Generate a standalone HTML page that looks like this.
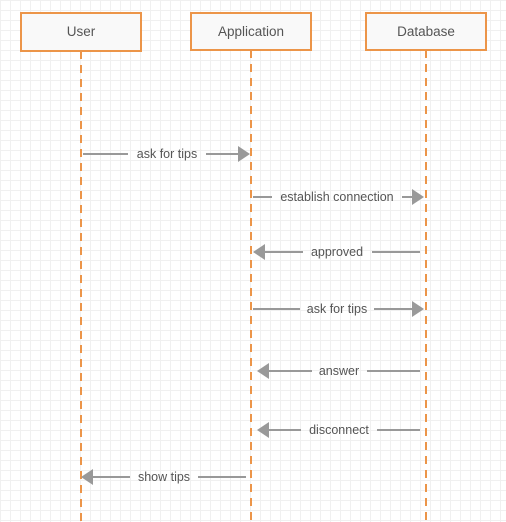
<!DOCTYPE html>
<html><head><meta charset="utf-8"><style>
html,body{margin:0;padding:0}
body{width:506px;height:522px;overflow:hidden;background:#fff;
background-image:linear-gradient(#f0f0f0 1px,transparent 1px),linear-gradient(90deg,#f0f0f0 1px,transparent 1px);
background-size:10px 10px;background-position:0 0;}
svg{position:absolute;left:0;top:0}
text{font-family:"Liberation Sans",sans-serif;font-size:12.5px;fill:#555}
</style></head><body>
<svg width="506" height="522" viewBox="0 0 506 522">
<g stroke="#ec9549" stroke-width="2" stroke-dasharray="8,6" fill="none">
<line x1="81" y1="51" x2="81" y2="522"/>
<line x1="251" y1="50" x2="251" y2="522"/>
<line x1="426" y1="50" x2="426" y2="522"/>
</g>
<g fill="#f9f9f9" stroke="#ec9549" stroke-width="2">
<rect x="21" y="13" width="120" height="38"/>
<rect x="191" y="13" width="120" height="37"/>
<rect x="366" y="13" width="120" height="37"/>
</g>
<g text-anchor="middle">
<text x="81" y="36" style="font-size:13.5px">User</text>
<text x="251" y="36" style="font-size:13.5px">Application</text>
<text x="426" y="36" style="font-size:13.5px">Database</text>
</g>
<g stroke="#999" stroke-width="2">
<line x1="83" y1="154" x2="128" y2="154"/><line x1="206" y1="154" x2="240" y2="154"/>
<line x1="253" y1="197" x2="272" y2="197"/><line x1="402" y1="197" x2="414" y2="197"/>
<line x1="263" y1="252" x2="303" y2="252"/><line x1="372" y1="252" x2="420" y2="252"/>
<line x1="253" y1="309" x2="300" y2="309"/><line x1="374" y1="309" x2="414" y2="309"/>
<line x1="267" y1="371" x2="312" y2="371"/><line x1="367" y1="371" x2="420" y2="371"/>
<line x1="267" y1="430" x2="301" y2="430"/><line x1="377" y1="430" x2="420" y2="430"/>
<line x1="91" y1="477" x2="130" y2="477"/><line x1="198" y1="477" x2="246" y2="477"/>
</g>
<g fill="#999">
<polygon points="238,146 250,154 238,162"/>
<polygon points="412,189 424,197 412,205"/>
<polygon points="253,252 265,244 265,260"/>
<polygon points="412,301 424,309 412,317"/>
<polygon points="257,371 269,363 269,379"/>
<polygon points="257,430 269,422 269,438"/>
<polygon points="81,477 93,469 93,485"/>
</g>
<g text-anchor="middle">
<text x="167" y="158">ask for tips</text>
<text x="337" y="201">establish connection</text>
<text x="337" y="256">approved</text>
<text x="337" y="313">ask for tips</text>
<text x="339" y="375">answer</text>
<text x="339" y="434">disconnect</text>
<text x="164" y="481">show tips</text>
</g>
</svg>
</body></html>
